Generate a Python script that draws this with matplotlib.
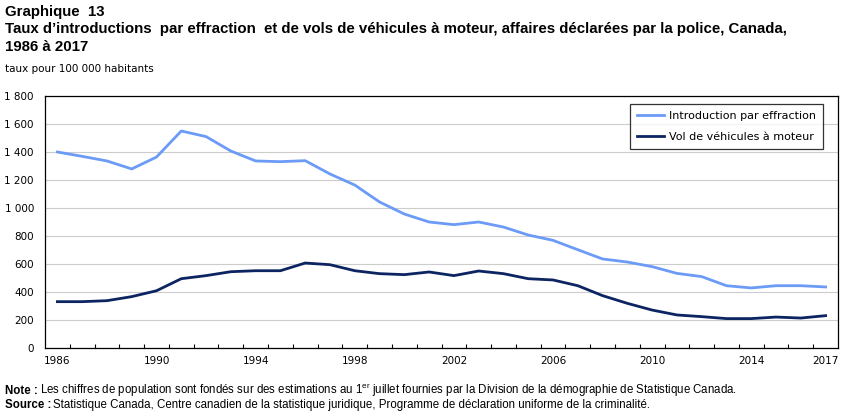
import numpy as np
import matplotlib
matplotlib.use("Agg")
import matplotlib.pyplot as plt

years = list(range(1986, 2018))
introduction = [1400, 1369, 1336, 1279, 1364, 1550, 1510, 1407, 1336, 1331,
                1338, 1243, 1164, 1043, 957, 900, 881, 900, 864, 807,
                769, 702, 636, 614, 581, 533, 510, 445, 429, 445,
                445, 436]
vehicules = [331, 331, 338, 367, 409, 495, 517, 545, 552, 552,
             607, 595, 552, 531, 524, 543, 517, 550, 531, 495,
             486, 445, 374, 319, 271, 236, 224, 210, 210, 221,
             214, 231]
label_years = [1986, 1990, 1994, 1998, 2002, 2006, 2010, 2014, 2017]

light = "#6c9bf7"
dark = "#0c2461"

plt.rcParams["mathtext.fontset"] = "custom"
plt.rcParams["mathtext.rm"] = "Liberation Sans"
plt.rcParams["mathtext.bf"] = "Liberation Sans:bold"

fig = plt.figure(figsize=(8.51, 4.16), dpi=100)
ax = fig.add_axes([45/851, 1-348/416, (838-45)/851, (348-96)/416])

x = np.arange(len(years))
ax.plot(x, introduction, color=light, lw=2, label="Introduction par effraction")
ax.plot(x, vehicules, color=dark, lw=2, label="Vol de véhicules à moteur")

ax.set_xlim(-0.5, len(years) - 0.5)
ax.set_ylim(0, 1800)
ax.set_yticks(range(0, 1801, 200))
ax.set_yticklabels([f"{v:,}".replace(",", " ") for v in range(0, 1801, 200)])
ax.yaxis.grid(True, color="#cccccc", lw=0.8)
ax.set_axisbelow(True)
ax.tick_params(axis="y", length=0, pad=8, labelsize=7.5)

ax.set_xticks([years.index(y) for y in label_years])
ax.set_xticklabels([str(y) for y in label_years])
ax.set_xticks(np.arange(0.5, len(years) - 1), minor=True)
ax.tick_params(axis="x", which="major", length=0, pad=6, labelsize=7.5)
ax.tick_params(axis="x", which="minor", direction="in", length=3, width=0.8)
for s in ax.spines.values():
    s.set_linewidth(0.9)

leg = ax.legend(loc="upper right", bbox_to_anchor=(0.9875, 0.99), fontsize=8,
                frameon=True, fancybox=False, edgecolor="black",
                handlelength=2.5, handletextpad=0.4, borderpad=0.6,
                labelspacing=1.0)
leg.get_frame().set_linewidth(0.9)

tfont = dict(family="Liberation Sans", fontweight="bold", fontsize=10.8)
fig.text(5/851, 1-12/416, "Graphique  13", va="center", **tfont)
fig.text(5/851, 1-29.5/416, "Taux d\u2019introductions  par effraction  et de vols de véhicules à moteur, affaires déclarées par la police, Canada,",
         va="center", **tfont)
fig.text(5/851, 1-47/416, "1986 à 2017", va="center", **tfont)
fig.text(5/851, 1-69/416, "taux pour 100 000 habitants", va="center",
         fontsize=7.5)

nfont = dict(family="Liberation Sans", fontsize=8.3, va="baseline")
fig.text(5/851, 1-394/416, "Note :", fontweight="bold", **nfont)
fig.text(40/851, 1-394/416, r"Les chiffres de population sont fondés sur des estimations au 1$^{\rm er}$ juillet fournies par la Division de la démographie de Statistique Canada.",
         **nfont)
fig.text(5/851, 1-408/416, "Source :", fontweight="bold", **nfont)
fig.text(53/851, 1-408/416, "Statistique Canada, Centre canadien de la statistique juridique, Programme de déclaration uniforme de la criminalité.",
         **nfont)

fig.savefig("out.png", dpi=100)
